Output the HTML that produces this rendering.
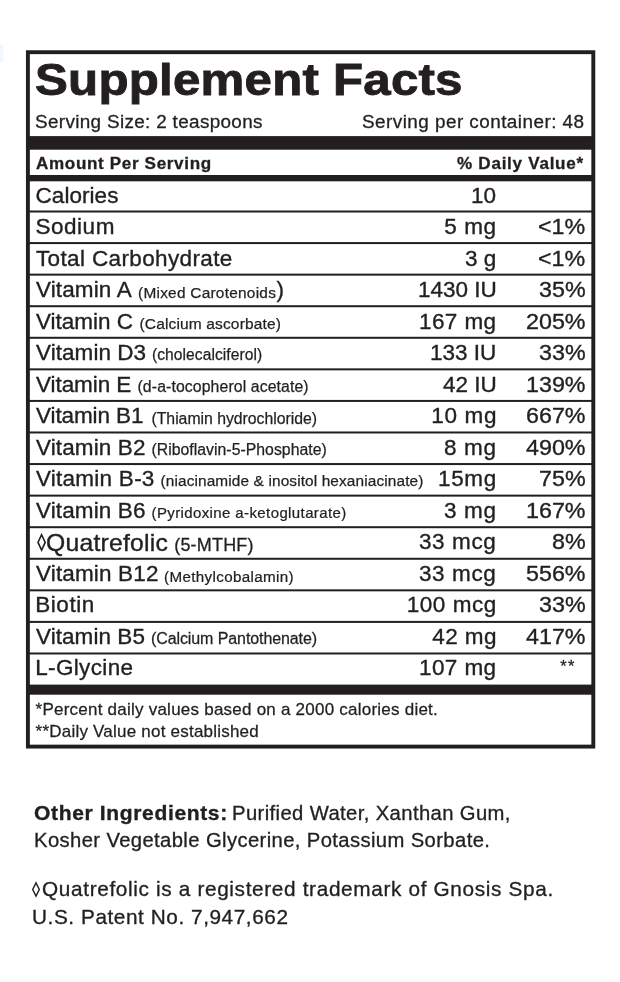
<!DOCTYPE html>
<html><head><meta charset="utf-8"><title>Supplement Facts</title>
<style>
html,body{margin:0;padding:0;background:#fff;}
body{width:620px;height:982px;position:relative;overflow:hidden;font-family:"Liberation Sans",sans-serif;color:#231f20;}
.t{position:absolute;white-space:pre;line-height:1;}
.w{position:absolute;left:0;top:0;width:620px;height:982px;will-change:transform;}
svg{position:absolute;left:0;top:0;}
</style></head><body>
<svg width="620" height="982" viewBox="0 0 620 982">
<rect x="0" y="44.8" width="3.3" height="16.7" fill="#f1f7fe"/>
<rect x="27.9" y="52.2" width="565.4" height="694.4" fill="none" stroke="#231f20" stroke-width="3.9"/>
<rect x="26" y="136.1" width="569" height="13.6" fill="#231f20"/>
<rect x="26" y="175" width="569" height="6.3" fill="#231f20"/>
<rect x="26" y="210.50" width="569" height="2" fill="#231f20"/>
<rect x="26" y="242.07" width="569" height="2" fill="#231f20"/>
<rect x="26" y="273.64" width="569" height="2" fill="#231f20"/>
<rect x="26" y="305.21" width="569" height="2" fill="#231f20"/>
<rect x="26" y="336.78" width="569" height="2" fill="#231f20"/>
<rect x="26" y="368.35" width="569" height="2" fill="#231f20"/>
<rect x="26" y="399.92" width="569" height="2" fill="#231f20"/>
<rect x="26" y="431.49" width="569" height="2" fill="#231f20"/>
<rect x="26" y="463.06" width="569" height="2" fill="#231f20"/>
<rect x="26" y="494.63" width="569" height="2" fill="#231f20"/>
<rect x="26" y="526.20" width="569" height="2" fill="#231f20"/>
<rect x="26" y="557.77" width="569" height="2" fill="#231f20"/>
<rect x="26" y="589.34" width="569" height="2" fill="#231f20"/>
<rect x="26" y="620.91" width="569" height="2" fill="#231f20"/>
<rect x="26" y="652.48" width="569" height="2" fill="#231f20"/>
<rect x="26" y="684.6" width="569" height="10.1" fill="#231f20"/>
<polygon points="41.60,534.74 45.20,542.45 41.60,550.16 38.00,542.45" fill="none" stroke="#231f20" stroke-width="1.6" stroke-linejoin="miter"/>
<polygon points="36.00,882.86 39.30,889.50 36.00,896.14 32.70,889.50" fill="none" stroke="#231f20" stroke-width="1.4" stroke-linejoin="miter"/>
</svg>
<div class="w">
<div class="t" style="left:34.90px;transform-origin:0 0;transform:scaleX(1.1);top:57.00px;font-size:44.8px;font-weight:bold;-webkit-text-stroke:0.9px #231f20;letter-spacing:0.188px;">Supplement Facts</div>
<div class="t" style="left:35.35px;transform-origin:0 0;transform:scaleX(1.05);top:113.00px;font-size:18px;-webkit-text-stroke:0.29px #231f20;letter-spacing:0.313px;">Serving Size: 2 teaspoons</div>
<div class="t" style="left:361.85px;transform-origin:0 0;transform:scaleX(1.05);top:113.00px;font-size:18px;-webkit-text-stroke:0.29px #231f20;letter-spacing:0.431px;">Serving per container: 48</div>
<div class="t" style="left:35.80px;transform-origin:0 0;transform:scaleX(1.08);top:156.00px;font-size:15.8px;font-weight:bold;-webkit-text-stroke:0.3px #231f20;letter-spacing:0.606px;">Amount Per Serving</div>
<div class="t" style="left:456.90px;transform-origin:0 0;transform:scaleX(1.08);top:156.00px;font-size:15.8px;font-weight:bold;-webkit-text-stroke:0.3px #231f20;letter-spacing:0.674px;">% Daily Value*</div>
<div class="t" style="left:35.50px;top:185.00px;font-size:22.5px;-webkit-text-stroke:0.36px #231f20;letter-spacing:0.057px;">Calories</div>
<div class="t" style="left:471.00px;top:185.00px;font-size:22.5px;-webkit-text-stroke:0.36px #231f20;">10</div>
<div class="t" style="left:35.50px;top:216.00px;font-size:22.5px;-webkit-text-stroke:0.36px #231f20;letter-spacing:0.520px;">Sodium</div>
<div class="t" style="left:444.20px;top:216.00px;font-size:22.5px;-webkit-text-stroke:0.36px #231f20;letter-spacing:0.600px;">5 mg</div>
<div class="t" style="left:538.43px;transform-origin:0 0;transform:scaleX(1.035);top:216.00px;font-size:22.5px;-webkit-text-stroke:0.36px #231f20;">&lt;1%</div>
<div class="t" style="left:35.90px;top:248.00px;font-size:22.5px;-webkit-text-stroke:0.36px #231f20;letter-spacing:0.371px;">Total Carbohydrate</div>
<div class="t" style="left:465.00px;top:248.00px;font-size:22.5px;-webkit-text-stroke:0.36px #231f20;">3 g</div>
<div class="t" style="left:538.43px;transform-origin:0 0;transform:scaleX(1.035);top:248.00px;font-size:22.5px;-webkit-text-stroke:0.36px #231f20;">&lt;1%</div>
<div class="t" style="left:36.00px;top:279.00px;font-size:22.5px;-webkit-text-stroke:0.36px #231f20;letter-spacing:0.125px;">Vitamin A</div>
<div class="t" style="left:138.00px;top:285.00px;font-size:15.4px;-webkit-text-stroke:0.25px #231f20;letter-spacing:0.259px;">(Mixed Carotenoids</div>
<div class="t" style="left:276.60px;top:279.00px;font-size:22.5px;-webkit-text-stroke:0.36px #231f20;">)</div>
<div class="t" style="left:418.00px;top:279.00px;font-size:22.5px;-webkit-text-stroke:0.36px #231f20;">1430 IU</div>
<div class="t" style="left:539.46px;transform-origin:0 0;transform:scaleX(1.035);top:279.00px;font-size:22.5px;-webkit-text-stroke:0.36px #231f20;">35%</div>
<div class="t" style="left:36.00px;top:311.00px;font-size:22.5px;-webkit-text-stroke:0.36px #231f20;">Vitamin C</div>
<div class="t" style="left:139.50px;top:316.00px;font-size:15.5px;-webkit-text-stroke:0.25px #231f20;letter-spacing:0.150px;">(Calcium ascorbate)</div>
<div class="t" style="left:419.00px;top:311.00px;font-size:22.5px;-webkit-text-stroke:0.36px #231f20;letter-spacing:0.400px;">167 mg</div>
<div class="t" style="left:526.00px;transform-origin:0 0;transform:scaleX(1.035);top:311.00px;font-size:22.5px;-webkit-text-stroke:0.36px #231f20;">205%</div>
<div class="t" style="left:36.00px;top:342.00px;font-size:22.5px;-webkit-text-stroke:0.36px #231f20;letter-spacing:0.056px;">Vitamin D3</div>
<div class="t" style="left:152.00px;top:347.00px;font-size:15.6px;-webkit-text-stroke:0.25px #231f20;letter-spacing:0.062px;">(cholecalciferol)</div>
<div class="t" style="left:430.00px;top:342.00px;font-size:22.5px;-webkit-text-stroke:0.36px #231f20;">133 IU</div>
<div class="t" style="left:539.46px;transform-origin:0 0;transform:scaleX(1.035);top:342.00px;font-size:22.5px;-webkit-text-stroke:0.36px #231f20;">33%</div>
<div class="t" style="left:36.00px;top:374.00px;font-size:22.5px;-webkit-text-stroke:0.36px #231f20;letter-spacing:-0.062px;">Vitamin E</div>
<div class="t" style="left:137.50px;top:379.00px;font-size:15.8px;-webkit-text-stroke:0.25px #231f20;letter-spacing:0.109px;">(d-a-tocopherol acetate)</div>
<div class="t" style="left:443.00px;top:374.00px;font-size:22.5px;-webkit-text-stroke:0.36px #231f20;">42 IU</div>
<div class="t" style="left:526.00px;transform-origin:0 0;transform:scaleX(1.035);top:374.00px;font-size:22.5px;-webkit-text-stroke:0.36px #231f20;">139%</div>
<div class="t" style="left:36.00px;top:405.00px;font-size:22.5px;-webkit-text-stroke:0.36px #231f20;letter-spacing:-0.111px;">Vitamin B1</div>
<div class="t" style="left:151.50px;top:411.00px;font-size:15.8px;-webkit-text-stroke:0.25px #231f20;letter-spacing:-0.023px;">(Thiamin hydrochloride)</div>
<div class="t" style="left:431.30px;top:405.00px;font-size:22.5px;-webkit-text-stroke:0.36px #231f20;letter-spacing:0.675px;">10 mg</div>
<div class="t" style="left:526.00px;transform-origin:0 0;transform:scaleX(1.035);top:405.00px;font-size:22.5px;-webkit-text-stroke:0.36px #231f20;">667%</div>
<div class="t" style="left:36.00px;top:437.00px;font-size:22.5px;-webkit-text-stroke:0.36px #231f20;letter-spacing:0.111px;">Vitamin B2</div>
<div class="t" style="left:151.50px;top:442.00px;font-size:15.8px;-webkit-text-stroke:0.25px #231f20;letter-spacing:0.022px;">(Riboflavin-5-Phosphate)</div>
<div class="t" style="left:444.00px;top:437.00px;font-size:22.5px;-webkit-text-stroke:0.36px #231f20;letter-spacing:0.667px;">8 mg</div>
<div class="t" style="left:526.00px;transform-origin:0 0;transform:scaleX(1.035);top:437.00px;font-size:22.5px;-webkit-text-stroke:0.36px #231f20;">490%</div>
<div class="t" style="left:36.00px;top:468.00px;font-size:22.5px;-webkit-text-stroke:0.36px #231f20;letter-spacing:0.250px;">Vitamin B-3</div>
<div class="t" style="left:160.50px;top:473.00px;font-size:15.4px;-webkit-text-stroke:0.25px #231f20;letter-spacing:0.122px;">(niacinamide &amp; inositol hexaniacinate)</div>
<div class="t" style="left:438.00px;top:468.00px;font-size:22.5px;-webkit-text-stroke:0.36px #231f20;letter-spacing:0.667px;">15mg</div>
<div class="t" style="left:539.46px;transform-origin:0 0;transform:scaleX(1.035);top:468.00px;font-size:22.5px;-webkit-text-stroke:0.36px #231f20;">75%</div>
<div class="t" style="left:36.00px;top:500.00px;font-size:22.5px;-webkit-text-stroke:0.36px #231f20;letter-spacing:0.111px;">Vitamin B6</div>
<div class="t" style="left:151.50px;top:505.00px;font-size:15.0px;-webkit-text-stroke:0.24px #231f20;letter-spacing:0.389px;">(Pyridoxine a-ketoglutarate)</div>
<div class="t" style="left:444.00px;top:500.00px;font-size:22.5px;-webkit-text-stroke:0.36px #231f20;letter-spacing:0.667px;">3 mg</div>
<div class="t" style="left:526.00px;transform-origin:0 0;transform:scaleX(1.035);top:500.00px;font-size:22.5px;-webkit-text-stroke:0.36px #231f20;">167%</div>
<div class="t" style="left:46.47px;transform-origin:0 0;transform:scaleX(1.03);top:531.00px;font-size:24px;-webkit-text-stroke:0.38px #231f20;letter-spacing:0.218px;">Quatrefolic</div>
<div class="t" style="left:174.20px;top:536.00px;font-size:18px;-webkit-text-stroke:0.29px #231f20;letter-spacing:0.200px;">(5-MTHF)</div>
<div class="t" style="left:419.00px;top:531.00px;font-size:22.5px;-webkit-text-stroke:0.36px #231f20;letter-spacing:0.600px;">33 mcg</div>
<div class="t" style="left:551.88px;transform-origin:0 0;transform:scaleX(1.035);top:531.00px;font-size:22.5px;-webkit-text-stroke:0.36px #231f20;">8%</div>
<div class="t" style="left:36.00px;top:563.00px;font-size:22.5px;-webkit-text-stroke:0.36px #231f20;letter-spacing:0.150px;">Vitamin B12</div>
<div class="t" style="left:164.00px;top:569.00px;font-size:15.2px;-webkit-text-stroke:0.24px #231f20;letter-spacing:0.344px;">(Methylcobalamin)</div>
<div class="t" style="left:419.00px;top:563.00px;font-size:22.5px;-webkit-text-stroke:0.36px #231f20;letter-spacing:0.600px;">33 mcg</div>
<div class="t" style="left:526.00px;transform-origin:0 0;transform:scaleX(1.035);top:563.00px;font-size:22.5px;-webkit-text-stroke:0.36px #231f20;">556%</div>
<div class="t" style="left:35.20px;top:594.00px;font-size:22.5px;-webkit-text-stroke:0.36px #231f20;letter-spacing:0.560px;">Biotin</div>
<div class="t" style="left:406.70px;top:594.00px;font-size:22.5px;-webkit-text-stroke:0.36px #231f20;letter-spacing:0.550px;">100 mcg</div>
<div class="t" style="left:539.46px;transform-origin:0 0;transform:scaleX(1.035);top:594.00px;font-size:22.5px;-webkit-text-stroke:0.36px #231f20;">33%</div>
<div class="t" style="left:36.00px;top:626.00px;font-size:22.5px;-webkit-text-stroke:0.36px #231f20;letter-spacing:0.056px;">Vitamin B5</div>
<div class="t" style="left:151.00px;top:631.00px;font-size:16.0px;-webkit-text-stroke:0.26px #231f20;letter-spacing:-0.095px;">(Calcium Pantothenate)</div>
<div class="t" style="left:432.30px;top:626.00px;font-size:22.5px;-webkit-text-stroke:0.36px #231f20;letter-spacing:0.425px;">42 mg</div>
<div class="t" style="left:526.00px;transform-origin:0 0;transform:scaleX(1.035);top:626.00px;font-size:22.5px;-webkit-text-stroke:0.36px #231f20;">417%</div>
<div class="t" style="left:35.20px;top:657.00px;font-size:22.5px;-webkit-text-stroke:0.36px #231f20;letter-spacing:0.350px;">L-Glycine</div>
<div class="t" style="left:419.00px;top:657.00px;font-size:22.5px;-webkit-text-stroke:0.36px #231f20;letter-spacing:0.400px;">107 mg</div>
<div class="t" style="left:560.30px;top:658.00px;font-size:16.5px;-webkit-text-stroke:0.26px #231f20;letter-spacing:1.200px;">**</div>
<div class="t" style="left:35.60px;top:701.00px;font-size:17px;-webkit-text-stroke:0.27px #231f20;letter-spacing:0.233px;">*Percent daily values based on a 2000 calories diet.</div>
<div class="t" style="left:35.60px;top:723.00px;font-size:17px;-webkit-text-stroke:0.27px #231f20;letter-spacing:0.218px;">**Daily Value not established</div>
<div class="t" style="left:33.51px;transform-origin:0 0;transform:scaleX(1.09);top:804.00px;font-size:19.3px;font-weight:bold;-webkit-text-stroke:0.35px #231f20;letter-spacing:0.596px;">Other Ingredients:</div>
<div class="t" style="left:231.65px;transform-origin:0 0;transform:scaleX(1.05);top:804.00px;font-size:19.3px;-webkit-text-stroke:0.31px #231f20;letter-spacing:0.362px;">Purified Water, Xanthan Gum,</div>
<div class="t" style="left:34.15px;transform-origin:0 0;transform:scaleX(1.05);top:831.00px;font-size:19.3px;-webkit-text-stroke:0.31px #231f20;letter-spacing:0.360px;">Kosher Vegetable Glycerine, Potassium Sorbate.</div>
<div class="t" style="left:42.05px;transform-origin:0 0;transform:scaleX(1.05);top:880.00px;font-size:19.8px;-webkit-text-stroke:0.32px #231f20;letter-spacing:0.621px;">Quatrefolic is a registered trademark of Gnosis Spa.</div>
<div class="t" style="left:31.55px;transform-origin:0 0;transform:scaleX(1.05);top:908.00px;font-size:19.8px;-webkit-text-stroke:0.32px #231f20;letter-spacing:0.534px;">U.S. Patent No. 7,947,662</div>
</div>
</body></html>
